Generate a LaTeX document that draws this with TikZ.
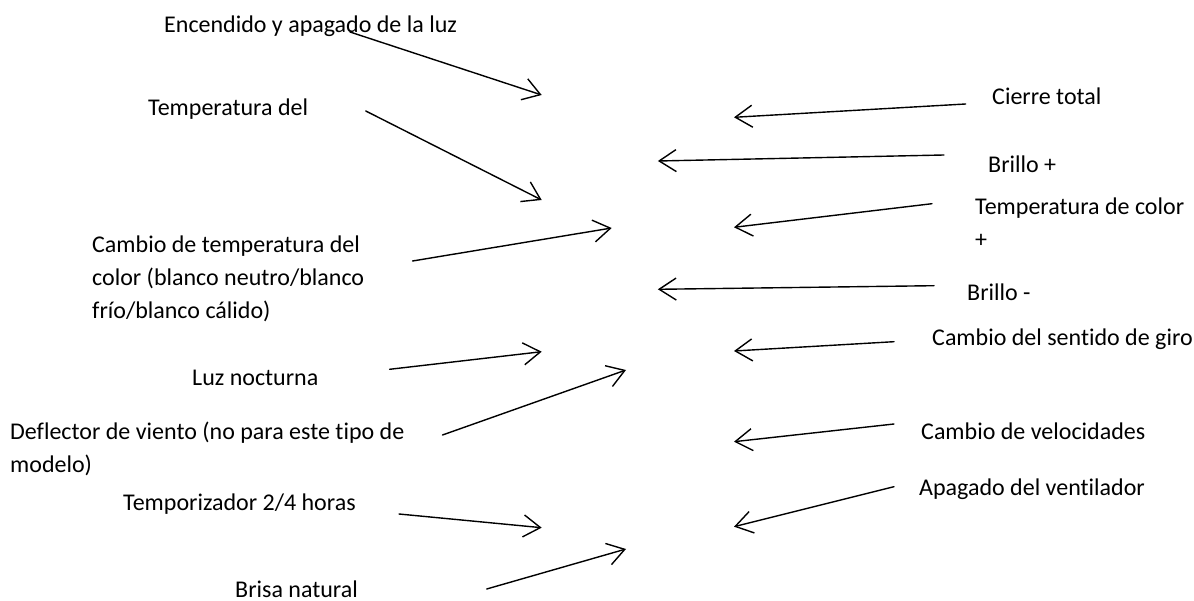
\documentclass[tikz,border=0pt]{standalone}
\usepackage{fontspec}
\setmainfont{Carlito}[Ligatures=NoCommon]
\usetikzlibrary{arrows.meta}
\begin{document}
\begin{tikzpicture}[x=1pt,y=-1pt,
  lbl/.style={inner sep=0pt, anchor=base west, align=left, font=\fontsize{24}{33}\selectfont},
  arr/.style={-{Straight Barb[length=17pt,width=22pt]}, line width=1.4pt, line cap=round}]
\useasboundingbox (0,0) rectangle (1194,601);
% left labels (multi-line: y is the baseline of the last line)
\node[lbl] (l1) at (164,33) {Encendido y apagado de la luz};
\node[lbl] (l2) at (148,116) {Temperatura del};
\node[lbl] (l3) at (92,319) {Cambio de temperatura del\\color (blanco neutro/blanco\\frío/blanco cálido)};
\node[lbl] (l4) at (192,386) {Luz nocturna};
\node[lbl] (l5) at (10,472) {Deflector de viento (no para este tipo de\\modelo)};
\node[lbl] (l6) at (123,510) {Temporizador 2/4 horas};
\node[lbl] (l7) at (235,597) {Brisa natural};
% right labels
\node[lbl] (r1) at (992,105) {Cierre total};
\node[lbl] (r2) at (988,173) {Brillo +};
\node[lbl] (r3) at (975,248) {Temperatura de color\\+};
\node[lbl] (r4) at (967,301) {Brillo -};
\node[lbl] (r5) at (932,346) {Cambio del sentido de giro};
\node[lbl] (r6) at (921,439) {Cambio de velocidades};
\node[lbl] (r7) at (919,495) {Apagado del ventilador};
% arrow end points
\coordinate (a1s) at (350,32);    \coordinate (a1e) at (541.7,95);
\coordinate (a2s) at (365.8,111); \coordinate (a2e) at (541.7,200);
\coordinate (a3s) at (412.5,261); \coordinate (a3e) at (611.7,228);
\coordinate (a4s) at (389.6,369.3); \coordinate (a4e) at (541.7,351.7);
\coordinate (a5s) at (442.5,435); \coordinate (a5e) at (626,370);
\coordinate (a6s) at (399,514);   \coordinate (a6e) at (541.7,527.7);
\coordinate (a7s) at (486.7,589); \coordinate (a7e) at (626,549);
\coordinate (b1s) at (965.6,104); \coordinate (b1e) at (734,117.3);
\coordinate (b2s) at (943.9,155); \coordinate (b2e) at (657.9,161);
\coordinate (b3s) at (932,203.7); \coordinate (b3e) at (734,227.3);
\coordinate (b4s) at (934,285.7); \coordinate (b4e) at (657.9,289.3);
\coordinate (b5s) at (894,341.7); \coordinate (b5e) at (734,351);
\coordinate (b6s) at (894,424);   \coordinate (b6e) at (734,441.7);
\coordinate (b7s) at (894,486.7); \coordinate (b7e) at (734,526.7);
% arrows
\foreach \n in {a1,a2,a3,a4,a5,a6,a7,b1,b2,b3,b4,b5,b6,b7}
  \draw[arr] (\n s) -- (\n e);
\end{tikzpicture}
\end{document}
